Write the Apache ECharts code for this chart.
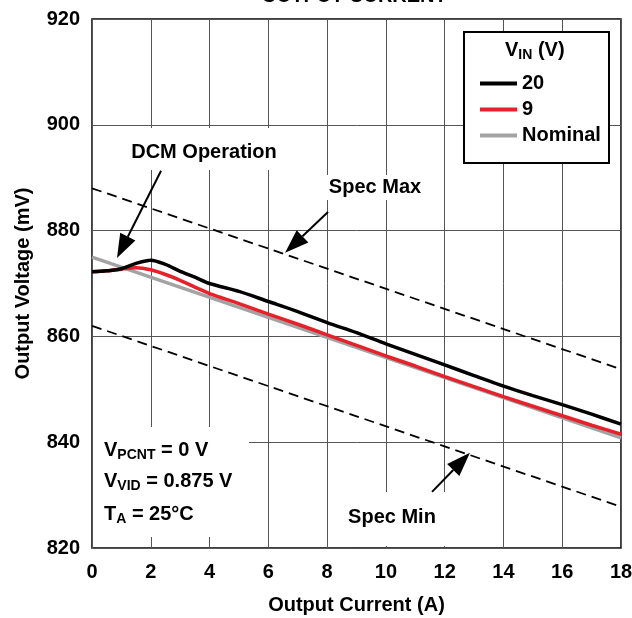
<!DOCTYPE html>
<html><head><meta charset="utf-8">
<script src="https://cdn.jsdelivr.net/npm/echarts@6/dist/echarts.min.js"></script>
<style>html,body{margin:0;padding:0;background:#fff}#c{width:632px;height:618px}</style>
</head><body><div id="c"></div>
<script>
// ---- data ----
const xTicks = [0, 2, 4, 6, 8, 10, 12, 14, 16, 18];
const yTicks = [820, 840, 860, 880, 900, 920];

const vin20Current = [0, 0.5, 1, 1.5, 2, 2.5, 3, 3.5, 4, 5, 6, 7, 8, 9, 10, 11, 12, 13, 14, 15, 16, 17, 18];
const vin20Voltage = [872.2, 872.4, 872.8, 873.8, 874.4, 873.6, 872.3, 871.2, 870.0, 868.5, 866.6, 864.7, 862.6, 860.7, 858.6, 856.6, 854.6, 852.6, 850.6, 848.8, 847.1, 845.3, 843.4];

const vin9Current = [0, 0.5, 1, 1.5, 2, 2.5, 3, 3.5, 4, 5, 6, 7, 8, 9, 10, 11, 12, 13, 14, 15, 16, 17, 18];
const vin9Voltage = [872.2, 872.4, 872.7, 873.0, 872.6, 871.7, 870.6, 869.3, 868.1, 866.2, 864.2, 862.3, 860.3, 858.3, 856.3, 854.4, 852.4, 850.5, 848.6, 846.8, 845.0, 843.2, 841.5];

const lineCurrent = [0, 18];
const nominalVoltage = [875.0, 840.8];
const specMaxVoltage = [888.0, 853.8];
const specMinVoltage = [862.0, 827.8];

const seriesNames = ['20', '9', 'Nominal'];

// annotation anchors in data coordinates: [fromX, fromY, tipX, tipY]
const dcmArrow = [2.35, 891.3, 0.85, 874.8];
const specMaxArrow = [8.03, 883.5, 6.57, 875.8];
const specMinArrow = [11.57, 830.6, 12.86, 838.0];

const FONT = 'Liberation Sans, Arial, sans-serif';
const pairs = (xs, ys) => xs.map((x, i) => [x, ys[i]]);

const chart = echarts.init(document.getElementById('c'));
const option = {
  animation: false,
  backgroundColor: '#fff',
  grid: { left: 92, top: 19, right: 11, bottom: 70, outerBoundsMode: 'none', containLabel: false, show: true, borderColor: '#000', borderWidth: 1.5, backgroundColor: 'transparent' },
  xAxis: {
    type: 'value', min: xTicks[0], max: xTicks[xTicks.length - 1], interval: 2,
    name: 'Output Current (A)', nameLocation: 'middle', nameGap: 47,
    nameTextStyle: { fontFamily: FONT, fontWeight: 'bold', fontSize: 20, color: '#000' },
    axisLine: { show: false }, axisTick: { show: false },
    axisLabel: { margin: 14, fontFamily: FONT, fontWeight: 'bold', fontSize: 20, color: '#000' },
    splitLine: { show: true, lineStyle: { color: '#555', width: 1 } }
  },
  yAxis: {
    type: 'value', min: yTicks[0], max: yTicks[yTicks.length - 1], interval: 20,
    name: 'Output Voltage (mV)', nameLocation: 'middle', nameGap: 59, nameRotate: 90,
    nameTextStyle: { fontFamily: FONT, fontWeight: 'bold', fontSize: 20, color: '#000' },
    axisLine: { show: false }, axisTick: { show: false },
    axisLabel: { margin: 12, fontFamily: FONT, fontWeight: 'bold', fontSize: 20, color: '#000' },
    splitLine: { show: true, lineStyle: { color: '#555', width: 1 } }
  },
  legend: {
    data: seriesNames, orient: 'vertical', left: 475, top: 68,
    icon: 'rect', itemWidth: 37, itemHeight: 4, itemGap: 5,
    textStyle: { fontFamily: FONT, fontWeight: 'bold', fontSize: 20, color: '#000', lineHeight: 21 },
    selectedMode: false, z: 6
  },
  series: [
    { name: 'Spec Max', type: 'line', data: pairs(lineCurrent, specMaxVoltage), showSymbol: false, lineStyle: { color: '#000', width: 1.8, type: [10, 6] }, itemStyle: { color: '#000' }, z: 2 },
    { name: 'Spec Min', type: 'line', data: pairs(lineCurrent, specMinVoltage), showSymbol: false, lineStyle: { color: '#000', width: 1.8, type: [10, 6] }, itemStyle: { color: '#000' }, z: 2 },
    { name: 'Nominal', type: 'line', data: pairs(lineCurrent, nominalVoltage), showSymbol: false, lineStyle: { color: '#a3a3a3', width: 3.5 }, itemStyle: { color: '#a3a3a3' }, z: 3 },
    { name: '9', type: 'line', data: pairs(vin9Current, vin9Voltage), showSymbol: false, smooth: 0.3, lineStyle: { color: '#e8202a', width: 3.5 }, itemStyle: { color: '#e8202a' }, z: 4 },
    { name: '20', type: 'line', data: pairs(vin20Current, vin20Voltage), showSymbol: false, smooth: 0.3, lineStyle: { color: '#000', width: 3.5 }, itemStyle: { color: '#000' }, z: 5 }
  ]
};
chart.setOption(option);

function arrow(a) {
  const p0 = chart.convertToPixel({ gridIndex: 0 }, [a[0], a[1]]);
  const p1 = chart.convertToPixel({ gridIndex: 0 }, [a[2], a[3]]);
  const dx = p1[0] - p0[0], dy = p1[1] - p0[1];
  const L = Math.sqrt(dx * dx + dy * dy);
  const ux = dx / L, uy = dy / L;
  const head = 24, hw = 8.5;
  const bx = p1[0] - ux * head, by = p1[1] - uy * head;
  return [
    { type: 'line', z: 10, shape: { x1: p0[0], y1: p0[1], x2: bx, y2: by }, style: { stroke: '#000', lineWidth: 2 } },
    { type: 'polygon', z: 10, shape: { points: [[p1[0], p1[1]], [bx - uy * hw, by + ux * hw], [bx + uy * hw, by - ux * hw]] }, style: { fill: '#000' } }
  ];
}

const txt = (x, y, text, align, extra) => Object.assign({
  type: 'text', x: x, y: y, z: 10,
  style: { text: text, x: 0, y: 0, fill: '#000', font: 'bold 20px ' + FONT, align: align || 'center', verticalAlign: 'middle' }
}, extra || {});

const mask = (x, y, w, h) => ({ type: 'rect', z: 1, shape: { x: x, y: y, width: w, height: h }, style: { fill: '#fff' } });

const subText = (x, y, main, sub, rest) => ({
  type: 'text', x: x, y: y, z: 10,
  style: {
    text: '{v|' + main + '}{s|' + sub + '}{v|' + rest + '}', x: 0, y: 0, align: 'left', verticalAlign: 'middle',
    rich: {
      v: { fontFamily: FONT, fontWeight: 'bold', fontSize: 20, lineHeight: 24, verticalAlign: 'middle', fill: '#000', color: '#000' },
      s: { fontFamily: FONT, fontWeight: 'bold', fontSize: 14, lineHeight: 14, verticalAlign: 'bottom', fill: '#000', color: '#000' }
    }
  }
});

const graphics = [
  mask(94, 128, 210, 42),
  mask(318, 175, 114, 25),
  mask(93, 427, 156, 110),
  mask(330, 492, 172, 54),
  { type: 'rect', z: 5, shape: { x: 464, y: 32, width: 145, height: 131 }, style: { fill: '#fff', stroke: '#000', lineWidth: 2 } },
  subText(505, 50, 'V', 'IN', ' (V)'),
  txt(204, 152, 'DCM Operation'),
  txt(375, 187, 'Spec Max'),
  txt(392, 517, 'Spec Min'),
  subText(104, 450, 'V', 'PCNT', ' = 0 V'),
  subText(104, 481, 'V', 'VID', ' = 0.875 V'),
  subText(104, 514, 'T', 'A', ' = 25°C'),
  txt(354, -4, 'OUTPUT CURRENT')
].concat(arrow(dcmArrow), arrow(specMaxArrow), arrow(specMinArrow));

chart.setOption({ graphic: { elements: graphics } });
</script>
</body></html>
